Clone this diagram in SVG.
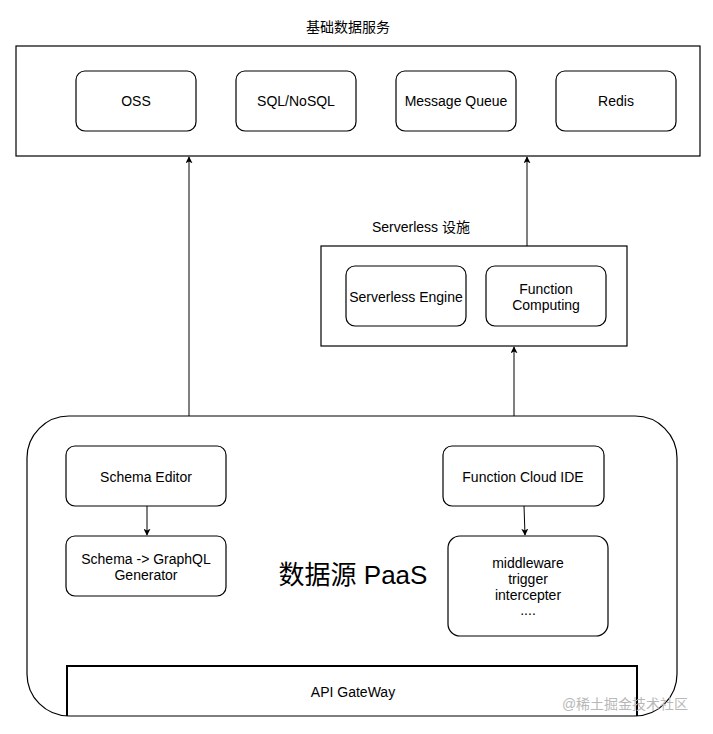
<svg xmlns="http://www.w3.org/2000/svg" width="713" height="734" viewBox="0 0 713 734">
<defs>
<marker id="arr" viewBox="0 0 10 10" refX="9" refY="5" markerWidth="7" markerHeight="7" orient="auto" markerUnits="userSpaceOnUse">
<path d="M0,0 L10,5 L0,10 L2.5,5 Z" fill="#000"/>
</marker>
</defs>
<style>
.box{fill:#fff;stroke:#000;stroke-width:1.2}
.t{font-family:"Liberation Sans",Arial,"Noto Sans CJK SC",sans-serif;font-size:14px;fill:#000;text-anchor:middle;dominant-baseline:central}
.ln{stroke:#000;stroke-width:1;fill:none}
</style>
<rect width="713" height="734" fill="#fff"/>
<g id="base-services">
<text class="t" x="348" y="27">基础数据服务</text>
<rect class="box" x="16" y="46" width="684" height="110"/>
</g>
<g id="oss"><rect class="box" x="76" y="71" width="120" height="60" rx="9"/><text class="t" x="136" y="101">OSS</text></g>
<g id="sql"><rect class="box" x="236" y="71" width="120" height="60" rx="9"/><text class="t" x="296" y="101">SQL/NoSQL</text></g>
<g id="mq"><rect class="box" x="396" y="71" width="120" height="60" rx="9"/><text class="t" x="456" y="101">Message Queue</text></g>
<g id="redis"><rect class="box" x="556" y="71" width="120" height="60" rx="9"/><text class="t" x="616" y="101">Redis</text></g>
<g id="serverless">
<text class="t" x="421" y="227">Serverless 设施</text>
<rect class="box" x="321" y="246" width="306" height="100"/>
</g>
<g id="serverless-engine"><rect class="box" x="346" y="266" width="120" height="60" rx="9"/><text class="t" x="406" y="297">Serverless Engine</text></g>
<g id="function-computing"><rect class="box" x="486" y="266" width="120" height="60" rx="9"/><text class="t" x="546" y="289">Function</text><text class="t" x="546" y="305">Computing</text></g>
<g id="paas">
<rect class="box" x="27" y="416" width="650" height="300" rx="42"/>
<text class="t" x="353" y="575" style="font-size:26px">数据源 PaaS</text>
</g>
<g id="schema-editor"><rect class="box" x="66" y="446" width="160" height="60" rx="9"/><text class="t" x="146" y="477">Schema Editor</text></g>
<g id="schema-graphql"><rect class="box" x="66" y="536" width="160" height="60" rx="9"/><text class="t" x="146" y="559">Schema -&gt; GraphQL</text><text class="t" x="146" y="575">Generator</text></g>
<g id="function-ide"><rect class="box" x="443" y="446" width="161" height="60" rx="9"/><text class="t" x="523" y="477">Function Cloud IDE</text></g>
<g id="middleware"><rect class="box" x="448" y="536" width="160" height="100" rx="12"/><text class="t" x="528" y="563">middleware</text><text class="t" x="528" y="579">trigger</text><text class="t" x="528" y="595">intercepter</text><text class="t" x="528" y="610">....</text></g>
<g id="api-gateway"><path d="M67,716 V666 H637 V716" fill="none" stroke="#000" stroke-width="2"/><text class="t" x="353" y="692">API GateWay</text></g>
<g id="connectors">
<line class="ln" x1="189" y1="416" x2="189" y2="157" marker-end="url(#arr)"/>
<line class="ln" x1="527" y1="246" x2="527" y2="157" marker-end="url(#arr)"/>
<line class="ln" x1="514" y1="416" x2="514" y2="347" marker-end="url(#arr)"/>
<line class="ln" x1="147" y1="506" x2="147" y2="535" marker-end="url(#arr)"/>
<line class="ln" x1="524" y1="506" x2="525" y2="535" marker-end="url(#arr)"/>
</g>
<text x="625" y="704" style="font-family:'Liberation Sans','Noto Sans CJK SC',sans-serif;font-size:14px;fill:#b8b8b8;text-anchor:middle;dominant-baseline:central">@稀土掘金技术社区</text>
</svg>
